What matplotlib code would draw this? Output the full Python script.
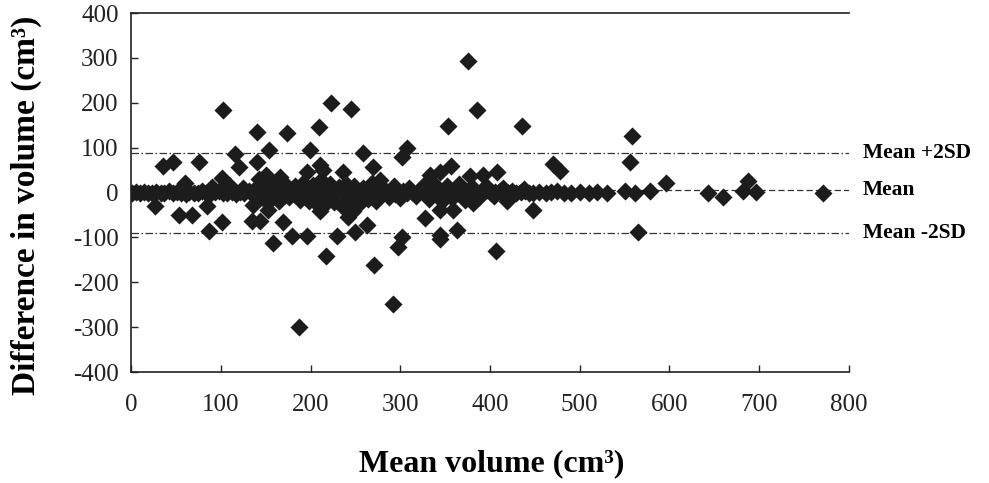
import matplotlib
matplotlib.use("Agg")
import matplotlib.pyplot as plt
from matplotlib.transforms import blended_transform_factory

plt.rcParams['font.family'] = ['Liberation Serif', 'DejaVu Serif']
plt.rcParams['axes.unicode_minus'] = False

# limits of agreement
MEAN_DIFF = 5
UPPER_2SD = 88
LOWER_2SD = -90

# dense band of pairs that agree closely (mean volume, difference)
band_pts = [(1, 0), (5, 2), (10, -1), (14, 1), (19, -2), (23, 0), (28, 2), (33, -1), (37, 0),
            (42, 3), (47, -2), (51, 1), (56, 0), (61, -3), (65, 2), (70, 0), (75, -1), (79, 3),
            (84, 0), (89, -2), (93, 1), (98, 4), (103, -1), (107, 0), (112, 2), (117, -3), (121, 1),
            (126, 0), (131, 3), (135, -2), (140, 0), (145, 4), (149, -3), (154, 1), (159, -1),
            (163, 5), (168, -4), (173, 2), (177, 0), (182, -3), (187, 4), (191, -2), (196, 1),
            (201, 6), (205, -5), (210, 0), (215, 3), (219, -4), (224, 2), (229, -1), (233, 5),
            (238, -3), (243, 1), (247, -5), (252, 4), (257, 0), (261, -2), (266, 3), (271, -4),
            (275, 1), (280, 5), (285, -1), (289, 2), (294, -3), (299, 0), (303, 4), (308, -2),
            (313, 1), (317, -4), (322, 3), (327, 0), (331, -3), (336, 5), (341, -1), (345, 2),
            (350, -4), (355, 0), (359, 3), (364, -2), (369, 1), (373, 4), (378, -1), (383, 2),
            (387, -3), (392, 0), (397, 5), (401, -2), (406, 1), (411, 3), (415, -1), (420, 0),
            (425, 4), (429, -2), (434, 1), (439, 3), (443, -1), (448, 0), (455, 2), (462, -1),
            (468, 1), (475, 3), (482, 0), (490, -1), (500, 1), (510, 0), (519, 2), (530, 0),
            (550, 3), (562, -2), (578, 4)]

# thicker spread around the band
spread_pts = [(60, 22), (90, 12), (110, 14), (125, 10), (142, 15), (147, -12), (152, 18),
              (156, -15), (161, 12), (165, -18), (172, 20), (176, -10), (183, 14), (188, -16),
              (192, 22), (198, -20), (203, 16), (207, -25), (212, 28), (218, -14), (222, 18),
              (226, -22), (232, 12), (240, 20), (244, -18), (249, 15), (254, -25), (259, 10),
              (264, -14), (268, 22), (273, -20), (280, 12), (287, -10), (293, 14), (300, -12),
              (310, 10), (318, -8), (326, 16), (332, -14), (338, 20), (346, -18), (352, 14),
              (358, -12), (366, 18), (372, -16), (380, 12), (388, -10), (396, 14), (404, -8),
              (415, 10), (425, -6), (438, 8)]

# positive differences
high_pts = [(36, 58), (47, 69), (76, 69), (102, 185), (101, 33), (116, 85), (120, 56), (140, 134),
            (140, 69), (154, 94), (174, 132), (209, 147), (199, 94), (223, 199), (245, 187),
            (258, 89), (270, 56), (302, 80), (307, 100), (196, 45), (236, 45), (277, 29), (211, 62),
            (214, 50), (143, 30), (150, 40), (158, 22), (166, 35), (375, 293), (386, 184),
            (353, 148), (436, 148), (558, 127), (556, 67), (357, 58), (333, 40), (344, 45),
            (378, 36), (392, 40), (408, 45), (470, 63), (478, 47), (596, 22), (643, 0), (660, -9),
            (682, 3), (687, 25), (696, 2), (771, 0)]

# negative differences
low_pts = [(27, -29), (53, -49), (68, -49), (87, -85), (101, -65), (85, -31), (135, -63),
           (144, -63), (136, -27), (158, -112), (169, -65), (179, -96), (196, -98), (217, -141),
           (229, -98), (247, -42), (250, -87), (263, -72), (271, -161), (302, -100), (297, -121),
           (187, -299), (292, -248), (419, -20), (448, -38), (328, -57), (359, -38), (344, -38),
           (381, -23), (344, -94), (344, -104), (363, -83), (565, -88), (407, -131), (153, -38),
           (211, -42), (207, -22), (213, -32), (235, -30), (242, -55)]

fig = plt.figure(figsize=(9.89, 4.83), dpi=100)
ax = fig.add_axes([0.1325, 0.2298, 0.7259, 0.7432])

ink = "#1c1c1c"
for pts in (band_pts, spread_pts, high_pts, low_pts):
    xs, ys = zip(*pts)
    ax.scatter(xs, ys, marker="D", s=85, color=ink, linewidths=0, zorder=3)

ax.axhline(UPPER_2SD, color="#333333", lw=0.9, dashes=(6, 2, 1.2, 2), zorder=2)
ax.axhline(MEAN_DIFF, color="#333333", lw=0.9, dashes=(5, 2.5), zorder=2)
ax.axhline(LOWER_2SD, color="#333333", lw=0.9, dashes=(6, 2, 1.2, 2), zorder=2)

tr = blended_transform_factory(ax.transAxes, ax.transData)
for yv, lbl in [(UPPER_2SD, "Mean +2SD"), (MEAN_DIFF, "Mean"), (LOWER_2SD, "Mean -2SD")]:
    ax.text(1.019, yv, lbl, transform=tr, fontsize=15.5, fontweight="bold",
            va="center", ha="left", clip_on=False)

ax.set_xlim(0, 800)
ax.set_ylim(-400, 400)
ax.set_xticks(range(0, 801, 100))
ax.set_yticks(range(-400, 401, 100))
ax.tick_params(axis="both", direction="in", length=5, width=1, labelsize=18, colors="#222222")
ax.tick_params(axis="x", pad=16)
ax.tick_params(axis="y", pad=9)

ax.spines["right"].set_visible(False)
for s in ("left", "bottom", "top"):
    ax.spines[s].set_linewidth(1.2)
    ax.spines[s].set_color("#222222")

fig.text(0.027, 0.575, "Difference in volume (cm³)", rotation=90, fontsize=24,
         fontweight="bold", ha="center", va="center")
fig.text(0.497, 0.04, "Mean volume (cm³)", fontsize=23, fontweight="bold",
         ha="center", va="center")

fig.savefig("out.png", dpi=100)
